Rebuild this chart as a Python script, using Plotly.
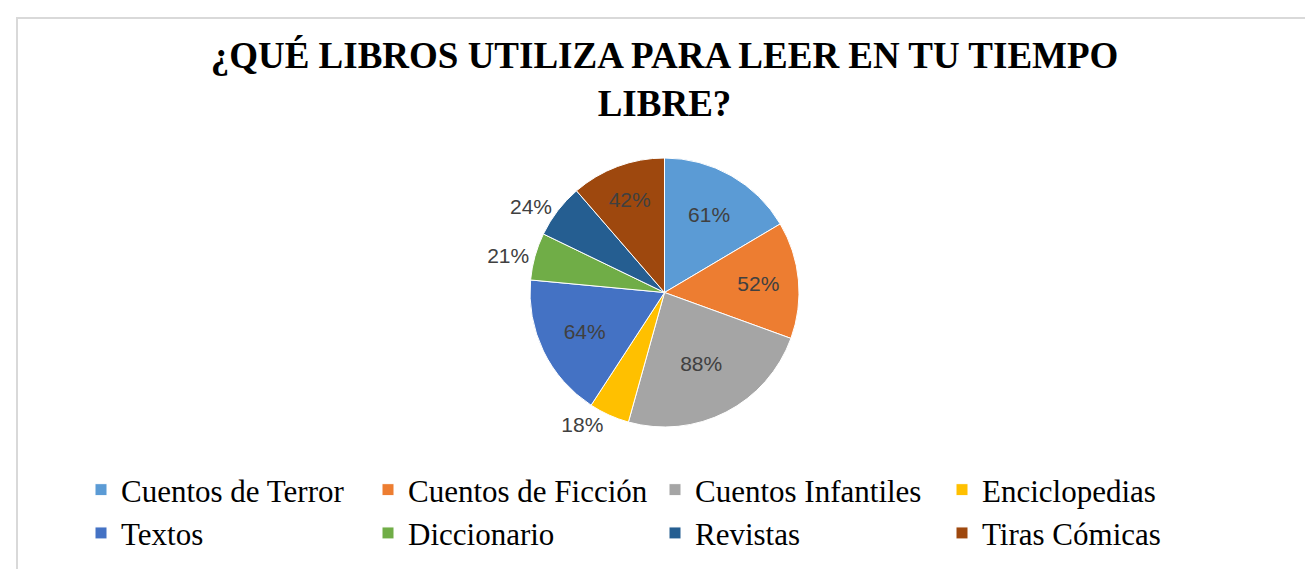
import plotly.graph_objects as go

categories = ["Cuentos de Terror", "Cuentos de Ficción", "Cuentos Infantiles", "Enciclopedias",
              "Textos", "Diccionario", "Revistas", "Tiras Cómicas"]
values = [61, 52, 88, 18, 64, 21, 24, 42]
colors = ["#5B9BD5", "#ED7D31", "#A5A5A5", "#FFC000", "#4472C4", "#70AD47", "#255E91", "#9E480E"]
title_text = "¿QUÉ LIBROS UTILIZA PARA LEER EN TU TIEMPO<br>LIBRE?"

W, H = 1313, 569
T, B = 150, 150

fig = go.Figure(go.Pie(
    labels=categories,
    values=values,
    sort=False,
    direction="clockwise",
    rotation=0,
    marker=dict(colors=colors, line=dict(color="white", width=1)),
    texttemplate="%{value}%",
    textposition="auto",
    textfont=dict(family="Liberation Sans, Arial", size=21, color="#404040"),
    insidetextorientation="horizontal",
    hoverinfo="label+value",
    domain=dict(x=[0.3, 0.7], y=[0.0, 1.0]),
))

fig.update_layout(
    width=W, height=H,
    paper_bgcolor="white",
    plot_bgcolor="white",
    margin=dict(l=0, r=0, t=T, b=B),
    title=dict(
        text="<b>" + title_text + "</b>",
        x=0.5, xanchor="center",
        y=1 - 60 / H, yanchor="top",
        font=dict(family="Liberation Serif, Times New Roman", size=37, color="black"),
    ),
    legend=dict(
        orientation="h",
        xref="container", yref="container",
        x=73 / W, xanchor="left",
        y=1 - 455 / H, yanchor="top",
        entrywidth=242, entrywidthmode="pixels",
        font=dict(family="Liberation Serif, Times New Roman", size=31, color="black"),
        bgcolor="rgba(0,0,0,0)",
        tracegroupgap=0,
    ),
    shapes=[dict(
        type="rect", xref="paper", yref="paper",
        x0=9 / W, x1=1.2,
        y0=-1.0, y1=1 + (T - 10) / (H - T - B),
        line=dict(color="#D9D9D9", width=2),
        fillcolor="rgba(0,0,0,0)",
        layer="below",
    )],
)

fig.write_html("out.html")
